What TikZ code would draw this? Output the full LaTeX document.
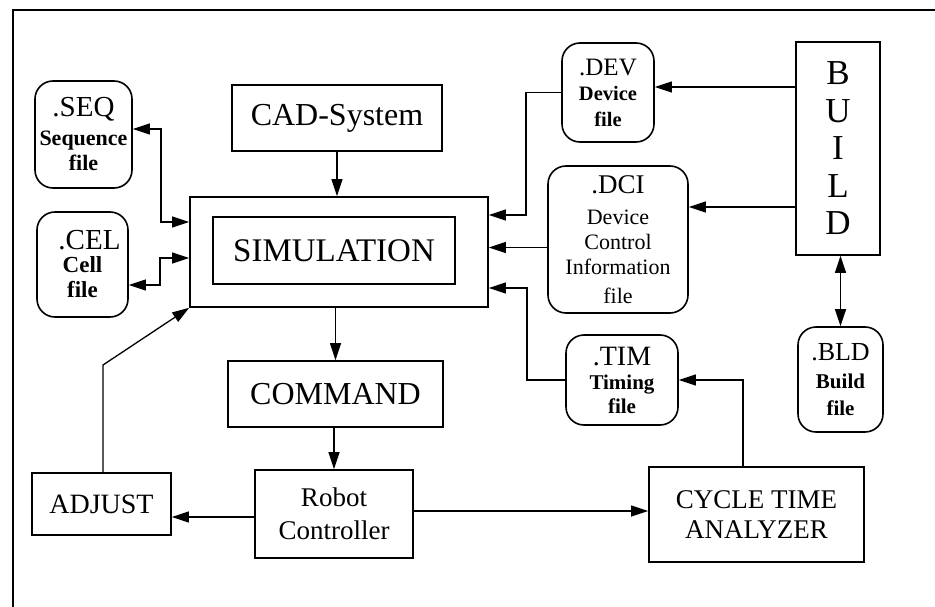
\documentclass[tikz,border=0pt]{standalone}
\usepackage{fontspec}
\setmainfont{Liberation Serif}
\usetikzlibrary{arrows.meta}
\newcommand\fsz[2]{\fontsize{#1}{#2}\selectfont}
\begin{document}
\begin{tikzpicture}[x=1pt,y=-1pt,
  box/.style={draw, line width=1.6pt, inner sep=0pt, align=center},
  filebox/.style={box, rounded corners=18pt},
  arr/.style={line width=1.3pt, -{Triangle[length=17pt,width=11pt]}},
  arr2/.style={line width=1.3pt, {Triangle[length=17pt,width=11pt]}-{Triangle[length=17pt,width=11pt]}}]
\useasboundingbox (0,0) rectangle (935,607);
% frame
\draw[line width=2.2pt] (13,607) -- (13,10) -- (935,10);

% file boxes
\node (seq) [filebox, minimum width=97pt, minimum height=107pt, font=\fsz{22}{25}\bfseries]
  at (83.5,134.5) {{\fsz{29}{29}\mdseries .SEQ}\\[4pt]Sequence\\file};
\node (cel) [filebox, minimum width=91pt, minimum height=105pt, font=\fsz{23}{25}\bfseries]
  at (82.5,264.5) {{\fsz{29}{29}\mdseries\hspace*{14pt}.CEL}\\[-2pt]Cell\\file};
\node (dev) [filebox, minimum width=92pt, minimum height=99pt, font=\fsz{20.5}{26}\bfseries]
  at (608,92.5) {{\fsz{25}{25}\mdseries .DEV}\\[-1pt]Device\\file};
\node (dci) [filebox, minimum width=140pt, minimum height=147pt, font=\fsz{22}{25}]
  at (618,239.5) {{\fsz{27}{27}.DCI}\\[6pt]Device\\Control\\Information\\[4pt]file};
\node (tim) [filebox, minimum width=112pt, minimum height=90pt, font=\fsz{21}{24}\bfseries]
  at (622,380) {{\fsz{28}{28}\mdseries .TIM}\\Timing\\file};
\node (bld) [filebox, minimum width=85pt, minimum height=105pt, font=\fsz{21}{27}\bfseries]
  at (840.5,379.5) {{\fsz{26}{26}\mdseries .BLD}\\[1pt]Build\\file};

% main boxes
\node (cad) [box, minimum width=210pt, minimum height=66pt, font=\fsz{32}{32}]
  at (337,118) {CAD-System};
\node (simo) [box, minimum width=298pt, minimum height=110pt] at (339,252) {};
\node (simi) [box, minimum width=242pt, minimum height=67pt, font=\fsz{33}{33}]
  at (334,250.5) {SIMULATION};
\node (cmd) [box, minimum width=215pt, minimum height=66pt, font=\fsz{32}{32}]
  at (335.5,394) {COMMAND};
\node (robot) [box, minimum width=158pt, minimum height=88pt, font=\fsz{27}{33}]
  at (334,514) {Robot\\Controller};
\node (adjust) [box, minimum width=139pt, minimum height=62pt, font=\fsz{28}{28}]
  at (101.5,504) {ADJUST};
\node (cycle) [box, minimum width=215pt, minimum height=95pt, font=\fsz{27}{30}]
  at (756.5,514.5) {CYCLE TIME\\ANALYZER};
\node (build) [box, minimum width=84pt, minimum height=213pt, font=\fsz{35}{37.5}]
  at (838,148.5) {B\\U\\I\\L\\D};

% bend points
\coordinate (seqbend) at (161,129);
\coordinate (celbend) at (160,285);
\coordinate (adjbend) at (103,365);
\coordinate (devbend) at (526,215);
\coordinate (timbend) at (527,288);

% connectors
\draw[arr] (cad.south) -- (cad.south |- simo.north);
\draw[arr] (cmd.north |- simo.south) -- (cmd.north);
\draw[arr] (robot.north |- cmd.south) -- (robot.north);
\draw[arr] ([yshift=-3pt]robot.west) -- ([yshift=-3pt]robot.west -| adjust.east);
\draw[arr] ([yshift=3pt]robot.east) -- ([yshift=3pt]robot.east -| cycle.west);
\draw[arr] ([xshift=-13.5pt]cycle.north) |- (tim.east);
\draw[arr] (tim.west) -| (timbend) -- (timbend -| simo.east);
\draw[arr] ([yshift=-8pt]dci.west) -- ([yshift=-8pt]dci.west -| simo.east);
\draw[arr] (dev.west) -| (devbend) -- (devbend -| simo.east);
\draw[arr] ([yshift=61.5pt]build.west) -- ([yshift=61.5pt]build.west -| dev.east);
\draw[arr] ([yshift=-58.5pt]build.west) -- ([yshift=-58.5pt]build.west -| dci.east);
\draw[arr2] (bld.north |- build.south) -- (bld.north);
\draw[arr2] (seqbend -| seq.east) -- (seqbend) |- ([yshift=30pt]simo.west);
\draw[arr2] (celbend -| cel.east) -- (celbend) |- ([yshift=-6pt]simo.west);
\draw[arr] (adjust.north -| adjbend) -- (adjbend) -- (simo.south west);
\end{tikzpicture}
\end{document}
